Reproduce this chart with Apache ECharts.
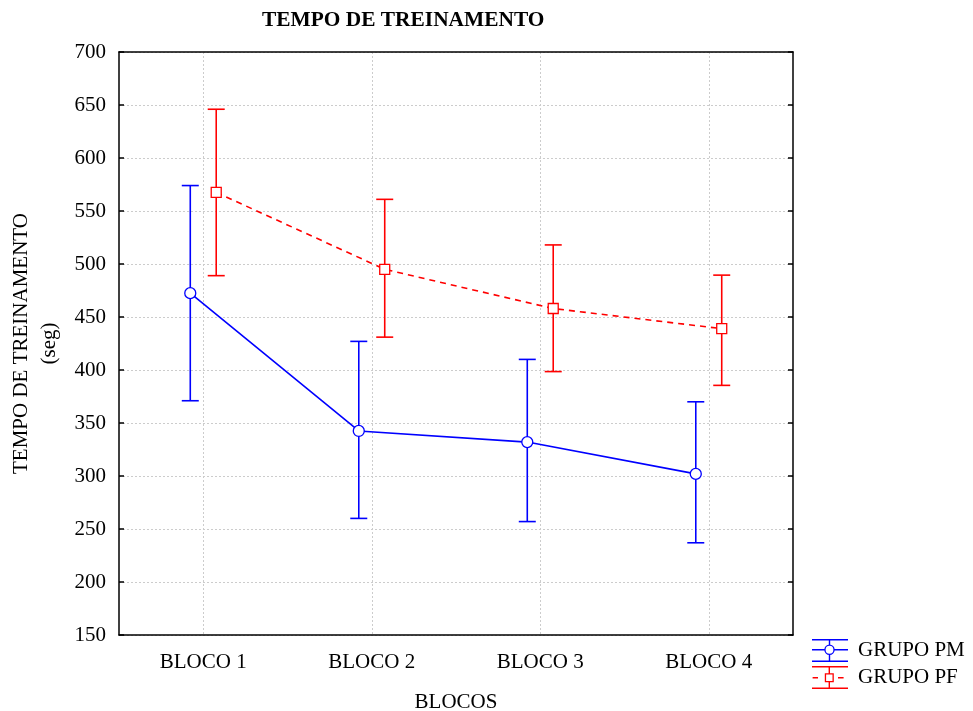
<!DOCTYPE html>
<html>
<head>
<meta charset="utf-8">
<script src="https://cdn.jsdelivr.net/npm/echarts@6/dist/echarts.min.js"></script>
<style>html,body{margin:0;padding:0;background:#fff}#c{width:973px;height:711px}</style>
</head>
<body>
<div id="c"></div>
<script>
const categories = ['BLOCO 1', 'BLOCO 2', 'BLOCO 3', 'BLOCO 4'];
const yTicks = { min: 150, max: 700, step: 50 };
const pmName = 'GRUPO PM';
const pmMean = [472.5, 342.5, 332, 302];
const pmUpper = [574, 427, 410, 370];
const pmLower = [371, 260, 257, 237];
const pfName = 'GRUPO PF';
const pfMean = [567.5, 495, 458, 439];
const pfUpper = [646, 561, 518, 489.5];
const pfLower = [489, 431, 398.5, 385.5];

const FONT = 'Liberation Serif';
const BLUE = '#0000ff';
const RED = '#ff0000';
const OFFSET = 0.077;

const pmX = categories.map((c, i) => i + 1 - OFFSET);
const pfX = categories.map((c, i) => i + 1 + OFFSET);

function errRender(color) {
  return function (params, api) {
    const x = api.value(0);
    const top = api.coord([x, api.value(1)]);
    const bot = api.coord([x, api.value(2)]);
    const hw = 8.5;
    const st = { stroke: color, lineWidth: 1.6 };
    return {
      type: 'group',
      children: [
        { type: 'line', shape: { x1: top[0], y1: top[1], x2: bot[0], y2: bot[1] }, style: st },
        { type: 'line', shape: { x1: top[0] - hw, y1: top[1], x2: top[0] + hw, y2: top[1] }, style: st },
        { type: 'line', shape: { x1: bot[0] - hw, y1: bot[1], x2: bot[0] + hw, y2: bot[1] }, style: st }
      ]
    };
  };
}

const iconPM = 'path://M0,0H36V1.5H0Z M0,21.5H36V23H0Z M0,10H12.4V11.5H0Z M22.6,10H36V11.5H22.6Z ' +
  'M16.8,1.5H18.2V5.7H16.8Z M16.8,15.8H18.2V21.5H16.8Z ' +
  'M12.3,10.75A5.2,5.2 0 1 1 22.7,10.75A5.2,5.2 0 1 1 12.3,10.75Z ' +
  'M13.6,10.75A3.9,3.9 0 1 0 21.4,10.75A3.9,3.9 0 1 0 13.6,10.75Z';
const iconPF = 'path://M0,0H36V1.5H0Z M0,21.5H36V23H0Z M0.6,11H6V12.5H0.6Z M26,11H31.6V12.5H26Z ' +
  'M16.6,1.5H18V7.3H16.6Z M16.6,16.3H18V21.5H16.6Z ' +
  'M12.8,7.3H21.8V16.3H12.8Z M14.1,8.6V15H20.5V8.6Z';

const chart = echarts.init(document.getElementById('c'), null, { renderer: 'canvas' });
const axisLineStyle = { color: '#000', width: 1.5 };
chart.setOption({
  animation: false,
  backgroundColor: '#fff',
  textStyle: { fontFamily: FONT, color: '#000' },
  title: {
    text: 'TEMPO DE TREINAMENTO',
    left: 262, top: 10, padding: 0,
    textStyle: { fontFamily: FONT, fontSize: 21.4, fontWeight: 'bold', color: '#000' }
  },
  legend: {
    orient: 'vertical',
    left: 812, top: 639,
    padding: 0,
    itemWidth: 36, itemHeight: 23, itemGap: 4,
    selectedMode: false,
    textStyle: { fontFamily: FONT, fontSize: 21, color: '#000', padding: [0, 0, 0, 5] },
    data: [
      { name: pmName, icon: iconPM, itemStyle: { color: BLUE, borderWidth: 0 } },
      { name: pfName, icon: iconPF, itemStyle: { color: RED, borderWidth: 0 } }
    ]
  },
  grid: { left: 119, top: 52, right: 180, bottom: 76, containLabel: false, outerBoundsMode: 'none' },
  xAxis: [
    {
      type: 'category', data: categories, position: 'bottom', boundaryGap: true,
      name: 'BLOCOS', nameLocation: 'middle', nameGap: 57,
      nameTextStyle: { fontFamily: FONT, fontSize: 21, color: '#000' },
      axisLine: { lineStyle: axisLineStyle },
      axisTick: { inside: true, alignWithLabel: true, length: 4, lineStyle: { color: '#000', width: 1.5 } },
      axisLabel: { fontFamily: FONT, fontSize: 21, color: '#000', margin: 17 },
      splitLine: { show: true, alignWithLabel: true, lineStyle: { color: '#cccccc', type: [2, 2], width: 1 } }
    },
    { type: 'value', min: 0.5, max: 4.5, show: false },
    {
      type: 'category', data: categories, position: 'top', boundaryGap: true,
      axisLine: { lineStyle: axisLineStyle },
      axisTick: { inside: true, alignWithLabel: true, length: 4, lineStyle: { color: '#000', width: 1.5 } },
      axisLabel: { show: false }, splitLine: { show: false }
    }
  ],
  yAxis: [
    {
      type: 'value', min: yTicks.min, max: yTicks.max, interval: yTicks.step, position: 'left',
      name: 'TEMPO DE TREINAMENTO\n(seg)', nameLocation: 'middle', nameGap: 54, nameRotate: 90,
      nameTextStyle: { fontFamily: FONT, fontSize: 21, color: '#000', lineHeight: 28, align: 'center' },
      axisLine: { show: true, lineStyle: axisLineStyle },
      axisTick: { show: true, inside: true, length: 5, lineStyle: { color: '#000', width: 1.5 } },
      axisLabel: { fontFamily: FONT, fontSize: 21, color: '#000', margin: 13 },
      splitLine: { show: true, lineStyle: { color: '#cccccc', type: [2, 2], width: 1 } }
    },
    {
      type: 'value', min: yTicks.min, max: yTicks.max, interval: yTicks.step, position: 'right',
      axisLine: { show: true, lineStyle: axisLineStyle },
      axisTick: { show: true, inside: true, length: 5, lineStyle: { color: '#000', width: 1.5 } },
      axisLabel: { show: false }, splitLine: { show: false }
    }
  ],
  series: [
    {
      name: pmName + ' err', type: 'custom', xAxisIndex: 1, yAxisIndex: 0, z: 2,
      renderItem: errRender(BLUE), encode: { x: 0, y: [1, 2] },
      data: pmX.map((x, i) => [x, pmUpper[i], pmLower[i]])
    },
    {
      name: pfName + ' err', type: 'custom', xAxisIndex: 1, yAxisIndex: 0, z: 2,
      renderItem: errRender(RED), encode: { x: 0, y: [1, 2] },
      data: pfX.map((x, i) => [x, pfUpper[i], pfLower[i]])
    },
    {
      name: pmName, type: 'line', xAxisIndex: 1, yAxisIndex: 0, z: 3,
      data: pmX.map((x, i) => [x, pmMean[i]]),
      symbol: 'circle', symbolSize: 11, showSymbol: true,
      lineStyle: { color: BLUE, width: 1.6 },
      itemStyle: { color: '#fff', borderColor: BLUE, borderWidth: 1.3 }
    },
    {
      name: pfName, type: 'line', xAxisIndex: 1, yAxisIndex: 0, z: 3,
      data: pfX.map((x, i) => [x, pfMean[i]]),
      symbol: 'rect', symbolSize: 10, showSymbol: true,
      lineStyle: { color: RED, width: 1.6, type: [6, 5] },
      itemStyle: { color: '#fff', borderColor: RED, borderWidth: 1.3 }
    }
  ]
});
</script>
</body>
</html>
